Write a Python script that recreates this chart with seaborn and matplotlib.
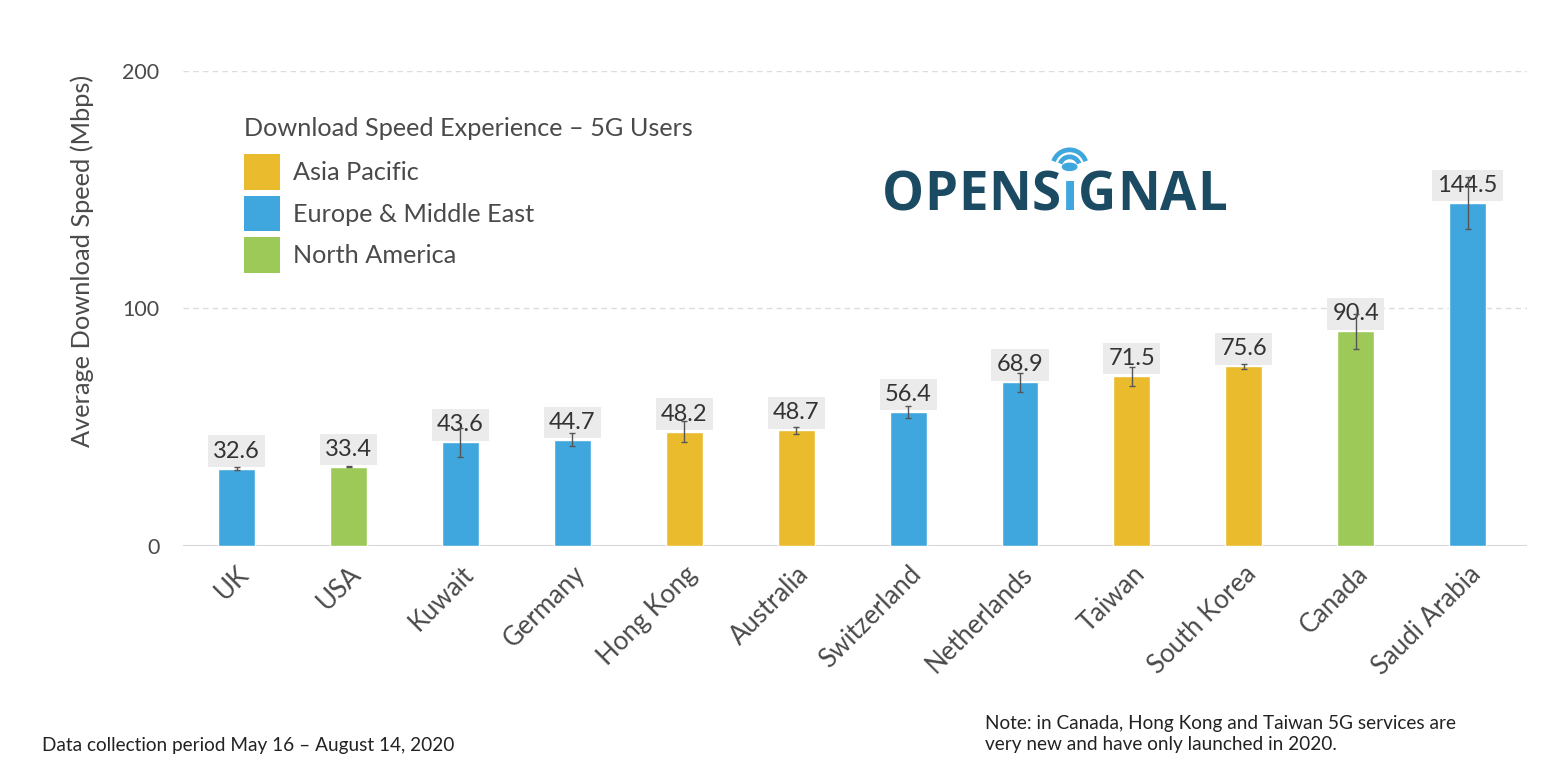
import numpy as np
import pandas as pd
import matplotlib
matplotlib.use("Agg")
import matplotlib.pyplot as plt
import seaborn as sns
from matplotlib.patches import Patch, Arc

# data
countries = ["UK", "USA", "Kuwait", "Germany", "Hong Kong", "Australia", "Switzerland",
             "Netherlands", "Taiwan", "South Korea", "Canada", "Saudi Arabia"]
speeds = [32.6, 33.4, 43.6, 44.7, 48.2, 48.7, 56.4, 68.9, 71.5, 75.6, 90.4, 144.5]
errors = [0.5, 0.2, 6.0, 2.7, 4.5, 1.5, 2.5, 4.0, 4.0, 1.0, 7.4, 11.0]
regions = ["Europe & Middle East", "North America", "Europe & Middle East", "Europe & Middle East",
           "Asia Pacific", "Asia Pacific", "Europe & Middle East", "Europe & Middle East",
           "Asia Pacific", "Asia Pacific", "North America", "Europe & Middle East"]
region_order = ["Asia Pacific", "Europe & Middle East", "North America"]
region_colors = ["#EBBB2E", "#3FA7DD", "#9CC957"]
yticks = [0, 100, 200]

sns.set_theme(style="white")
plt.rcParams["font.family"] = ["Lato", "DejaVu Sans"]
TXT = "#4a4a4a"

df = pd.DataFrame({"country": countries, "speed": speeds, "err": errors, "region": regions})
pal = dict(zip(region_order, region_colors))

fig = plt.figure(figsize=(15.57, 7.79), dpi=100)
ax = fig.add_axes([0.1175, 0.2991, 0.8632, 0.6098])

sns.barplot(data=df, x="country", y="speed", hue="region", hue_order=region_order,
            palette=pal, dodge=False, width=0.33, errorbar=None, legend=False,
            saturation=1, ax=ax, zorder=2)
xs = np.arange(len(countries))
ax.errorbar(xs, df["speed"], yerr=df["err"], fmt="none", ecolor="#555555",
            elinewidth=1, capsize=2.5, capthick=1, zorder=5)

for x, v in zip(xs, speeds):
    ax.annotate(f"{v:.1f}", (x, v), xytext=(0, 5), textcoords="offset points",
                ha="center", va="bottom", fontsize=17, color="#333333", zorder=4,
                bbox=dict(boxstyle="square,pad=0.22", fc="#ebebeb", ec="none"))

ax.set_xlim(-0.48, len(countries) - 0.47)
ax.set_ylim(0, 200)
ax.set_yticks(yticks)
for y in yticks[1:]:
    ax.axhline(y, color="#dcdcdc", lw=1, ls=(0, (4, 3)), zorder=0)
ax.axhline(0, color="#d6d6d6", lw=1.5, zorder=1)
for s in ax.spines.values():
    s.set_visible(False)
ax.tick_params(axis="y", length=0, pad=17, labelsize=15.5, labelcolor=TXT)
ax.tick_params(axis="x", length=0, pad=11, labelsize=18.5, labelcolor=TXT)
plt.setp(ax.get_xticklabels(), rotation=45, ha="right", rotation_mode="anchor")
ax.set_xlabel("")
ax.set_ylabel("Average Download Speed (Mbps)", fontsize=18.3, color=TXT, labelpad=18)
ax.yaxis.set_label_coords(-0.066, 0.6)

handles = [Patch(facecolor=c, edgecolor="none") for c in region_colors]
leg = ax.legend(handles, region_order, title="Download Speed Experience \u2013 5G Users",
                loc="upper left", bbox_to_anchor=(0.038, 0.925), frameon=False,
                fontsize=18.2, title_fontsize=18.2, handlelength=1.4, handleheight=1.8,
                handletextpad=0.55, labelspacing=0.22, borderaxespad=0)
leg._legend_box.align = "left"
leg._legend_box.sep = 10.5
leg.get_title().set_color(TXT)
for t in leg.get_texts():
    t.set_color(TXT)

# logo, letter by letter
LOGO = "#1B4B63"
BLUE = "#3FA7DD"
LF = dict(fontsize=38, fontweight="bold", family=["Open Sans", "DejaVu Sans"], va="bottom")
letters = list("OPENS\u0131GNAL")
prev = fig.text(0.5665, 0.7135, letters[0], color=LOGO, **LF)
i_art = None
for ch in letters[1:]:
    col = BLUE if ch == "\u0131" else LOGO
    prev = ax.annotate(ch, xy=(1, 0), xycoords=prev, xytext=(0.4, 0),
                       textcoords="offset points", color=col, **LF)
    if ch == "\u0131":
        i_art = prev
fig.canvas.draw()
bb = i_art.get_window_extent()
W, H = fig.bbox.width, fig.bbox.height
cx = (bb.x0 + bb.x1) / 2 / W
top = bb.y1 / H
fig.patches.append(plt.Circle((cx, top + 0.003), 3.6 / H, transform=fig.transFigure,
                              color=BLUE))
for r in (10, 17):
    fig.patches.append(Arc((cx, top + 0.003), 2 * r / W, 2 * r / H, theta1=35, theta2=145,
                           transform=fig.transFigure, color=BLUE, lw=3.4))

fig.text(0.027, 0.036, "Data collection period May 16 \u2013 August 14, 2020",
         fontsize=13.7, color="#222222")
fig.text(0.6325, 0.037, "Note: in Canada, Hong Kong and Taiwan 5G services are\n"
         "very new and have only launched in 2020.", fontsize=13.7, color="#222222",
         linespacing=1.3)

fig.savefig("out.png", dpi=100)
